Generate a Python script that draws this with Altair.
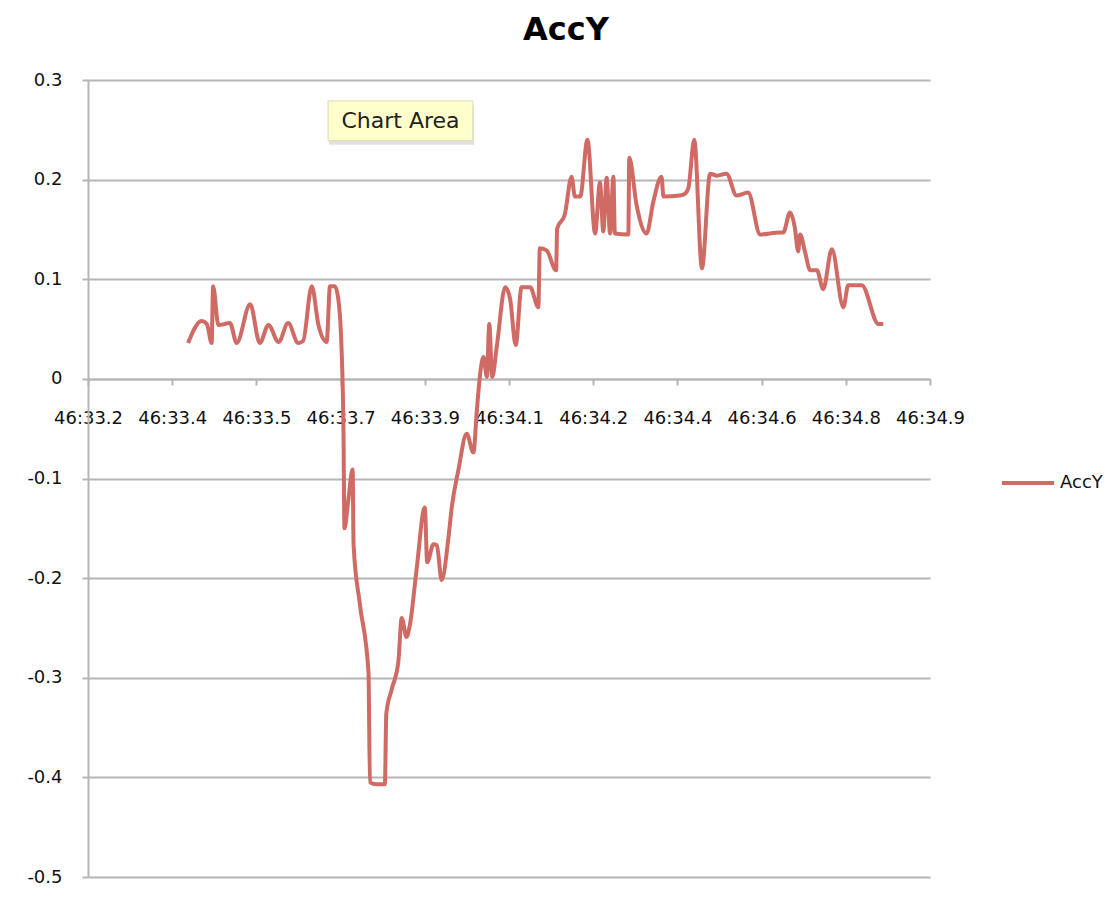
import altair as alt
import pandas as pd

# ---- data (time = seconds within minute 46) ----
times = [33.408, 33.436, 33.447, 33.457, 33.460, 33.471, 33.495, 33.509, 33.537, 33.557,
         33.575, 33.596, 33.616, 33.637, 33.647, 33.665, 33.679, 33.696, 33.703, 33.713,
         33.720, 33.727, 33.731, 33.733, 33.741, 33.750, 33.752, 33.765, 33.783, 33.786,
         33.800, 33.817, 33.820, 33.831, 33.845, 33.852, 33.862, 33.869, 33.883, 33.900,
         33.905, 33.918, 33.925, 33.935, 33.949, 33.956, 33.970, 33.987, 34.001, 34.008,
         34.015, 34.022, 34.029, 34.034, 34.040, 34.050, 34.067, 34.077, 34.089, 34.101,
         34.119, 34.136, 34.139, 34.153, 34.173, 34.175, 34.191, 34.205, 34.212, 34.223,
         34.238, 34.254, 34.264, 34.271, 34.278, 34.285, 34.292, 34.295, 34.323, 34.325,
         34.340, 34.361, 34.375, 34.392, 34.396, 34.430, 34.441, 34.448, 34.460, 34.476,
         34.493, 34.507, 34.527, 34.548, 34.572, 34.597, 34.638, 34.645, 34.659, 34.669,
         34.676, 34.680, 34.690, 34.701, 34.715, 34.728, 34.746, 34.770, 34.780, 34.808,
         34.843, 34.853]
acc_y = [0.036, 0.058, 0.055, 0.036, 0.093, 0.054, 0.056, 0.036, 0.075, 0.036,
         0.054, 0.037, 0.056, 0.036, 0.038, 0.093, 0.054, 0.037, 0.093, 0.093,
         0.081, 0.030, -0.053, -0.150, -0.122, -0.091, -0.167, -0.226, -0.295, -0.405,
         -0.407, -0.407, -0.336, -0.312, -0.284, -0.240, -0.259, -0.247, -0.191, -0.129,
         -0.184, -0.166, -0.167, -0.202, -0.160, -0.129, -0.091, -0.055, -0.074, -0.033,
         0.005, 0.022, 0.002, 0.055, 0.002, 0.034, 0.092, 0.081, 0.034, 0.092,
         0.092, 0.072, 0.131, 0.129, 0.109, 0.151, 0.165, 0.203, 0.183, 0.183,
         0.240, 0.146, 0.197, 0.148, 0.202, 0.146, 0.203, 0.146, 0.145, 0.222,
         0.175, 0.146, 0.178, 0.203, 0.183, 0.184, 0.186, 0.192, 0.240, 0.111,
         0.206, 0.204, 0.206, 0.184, 0.187, 0.145, 0.147, 0.147, 0.167, 0.152,
         0.128, 0.145, 0.128, 0.109, 0.109, 0.090, 0.130, 0.072, 0.094, 0.094,
         0.055, 0.055]
series = ["AccY"] * len(times)

tick_values = [33.2, 33.375, 33.55, 33.725, 33.9, 34.075, 34.25, 34.425, 34.6, 34.775, 34.95]
tick_labels = ["46:33.2", "46:33.4", "46:33.5", "46:33.7", "46:33.9", "46:34.1",
               "46:34.2", "46:34.4", "46:34.6", "46:34.8", "46:34.9"]
y_ticks = [0.3, 0.2, 0.1, 0.0, -0.1, -0.2, -0.3, -0.4, -0.5]

# "Chart Area" tooltip annotation (data coordinates)
note_text = ["Chart Area"]
note_x = [33.699]
note_x2 = [34.0]
note_y = [0.279]
note_y2 = [0.239]
note_tx = [33.8495]
note_ty = [0.259]

FONT = "DejaVu Sans"
LINE_COLOR = "#cf6a64"
GRID = "#b5b5b5"

df = pd.DataFrame({"t": times, "v": acc_y, "series": series})
note = pd.DataFrame({"text": note_text, "x": note_x, "x2": note_x2, "y": note_y,
                     "y2": note_y2, "tx": note_tx, "ty": note_ty})

label_arr = "[" + ",".join("'%s'" % s for s in tick_labels) + "]"
x_scale = alt.Scale(domain=[tick_values[0], tick_values[-1]], nice=False, zero=False)
y_scale = alt.Scale(domain=[-0.5, 0.3], nice=False, zero=False)

line = alt.Chart(df).mark_line(strokeWidth=4, interpolate="monotone").encode(
    x=alt.X("t:Q", scale=x_scale, title=None,
            axis=alt.Axis(values=tick_values, grid=False, offset=-498,
                          labelExpr=label_arr + "[round((datum.value-33.2)/0.175)]",
                          domainColor=GRID, domainWidth=2, tickColor=GRID, tickWidth=2,
                          tickSize=6, labelPadding=24, labelFont=FONT, labelFontSize=18,
                          labelColor="#111", labelFlush=False, labelOverlap=False)),
    y=alt.Y("v:Q", scale=y_scale, title=None,
            axis=alt.Axis(values=y_ticks, grid=True, gridColor=GRID, gridWidth=2,
                          domainColor=GRID, domainWidth=2, tickColor=GRID, tickWidth=2,
                          tickSize=6, labelPadding=20, labelFont=FONT, labelFontSize=18,
                          labelColor="#111",
                          labelExpr="(datum.value < -0.001 ? '-' : '') + format(abs(datum.value), '.1~f')")),
    color=alt.Color("series:N", scale=alt.Scale(range=[LINE_COLOR]), title=None,
                    legend=alt.Legend(orient="none", legendX=912, legendY=375,
                                      symbolType="stroke", symbolSize=2700,
                                      symbolStrokeWidth=4, labelFont=FONT,
                                      labelFontSize=18, labelColor="#111",
                                      labelOffset=4, padding=0)),
)

shadow = alt.Chart(note).mark_rect(fill="#000", opacity=0.12).encode(
    x="x:Q", x2="x2:Q", y="y:Q", y2="y2:Q"
).transform_calculate(x="datum.x + 0.002", x2="datum.x2 + 0.002",
                      y="datum.y - 0.004", y2="datum.y2 - 0.004")

box = alt.Chart(note).mark_rect(fill="#ffffcc", stroke="#d9d9b8", strokeWidth=1).encode(
    x="x:Q", x2="x2:Q", y="y:Q", y2="y2:Q")

box_text = alt.Chart(note).mark_text(font=FONT, fontSize=22, color="#222").encode(
    x="tx:Q", y="ty:Q", text="text:N")

chart = alt.layer(line, shadow, box, box_text).properties(
    width=842, height=797,
    title=alt.TitleParams("AccY", font=FONT, fontSize=32, fontWeight="bold",
                          color="#000", anchor="middle", frame="group", dx=57, offset=24),
    autosize=alt.AutoSizeParams(type="none"),
    padding={"left": 80, "top": 72, "right": 176, "bottom": 14},
).configure_view(stroke=None)

chart.save("out.html", embed_options={"renderer": "svg", "actions": False})
